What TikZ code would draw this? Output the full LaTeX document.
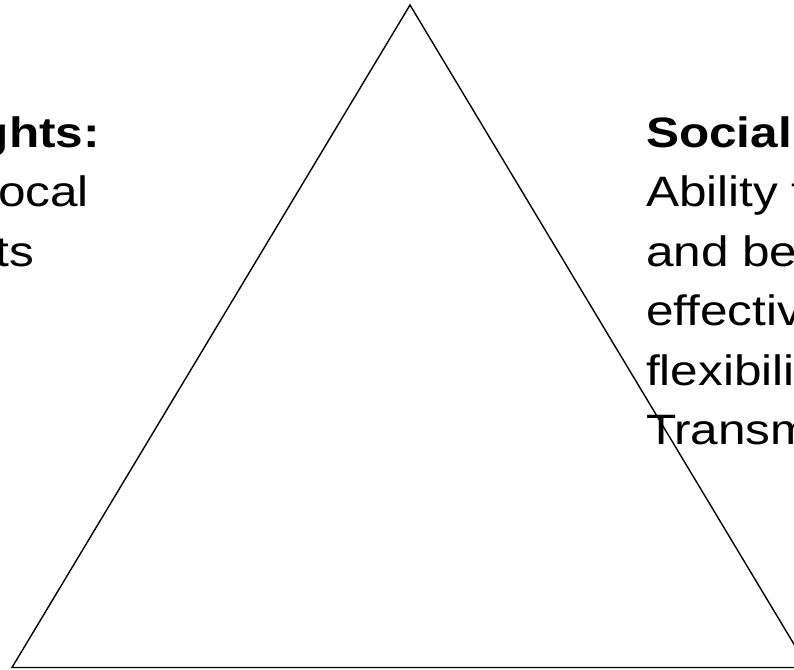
\documentclass[tikz,border=0pt]{standalone}
\usepackage{fontspec}
\setmainfont[FakeStretch=1.165]{Liberation Sans}
\begin{document}
\begin{tikzpicture}[x=1pt,y=-1pt,
  txt/.style={inner sep=0pt, outer sep=0pt, font=\fontsize{42.5}{55}\selectfont},
  hd/.style={inner sep=0pt, outer sep=0pt, font=\fontsize{42.5}{55}\selectfont\bfseries},
  tri/.style={draw=black, line width=1.4pt, line join=miter}]
\useasboundingbox (0,0) rectangle (794,669);
\clip (0,0) rectangle (794,669);
% left column (clipped at the left edge)
\node[hd,  anchor=base east] (l1) at (100,147) {ghts:};
\node[txt, anchor=base east] (l2) at (89,206.5) {ocal};
\node[txt, anchor=base east] (l3) at (34,266) {ts};
% right column (clipped at the right edge)
\node[hd,  anchor=base west] (r1) at (646,147) {Social};
\node[txt, anchor=base west] (r2) at (646,206.5) {Ability t};
\node[txt, anchor=base west] (r3) at (646,266) {and be};
\node[txt, anchor=base west] (r4) at (646,325.5) {effectiv};
\node[txt, anchor=base west] (r5) at (646,385) {flexibili};
\node[txt, anchor=base west] (r6) at (646,444.5) {Transm};
% triangle
\coordinate (apex) at (410,5);
\coordinate (bl) at (12,667.5);
\coordinate (br) at (808,667.5);
\draw[tri] (apex) -- (bl) -- (br) -- cycle;
\end{tikzpicture}
\end{document}
